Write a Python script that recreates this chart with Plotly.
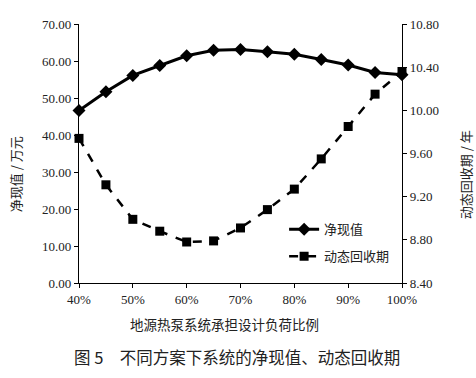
import plotly.graph_objects as go

ratio = [40, 45, 50, 55, 60, 65, 70, 75, 80, 85, 90, 95, 100]
npv = [46.6, 51.7, 56.1, 58.8, 61.4, 62.9, 63.1, 62.5, 61.8, 60.4, 58.9, 56.9, 56.3]
payback = [9.74, 9.31, 8.99, 8.88, 8.78, 8.79, 8.91, 9.08, 9.27, 9.55, 9.85, 10.15, 10.36]

x_tickvals = [40, 50, 60, 70, 80, 90, 100]
x_ticktext = ["40%", "50%", "60%", "70%", "80%", "90%", "100%"]

name_npv = "净现值"
name_pb = "动态回收期"
x_title = "地源热泵系统承担设计负荷比例"
y_title = "净现值 / 万元"
y2_title = "动态回收期 / 年"
caption = "图 5　不同方案下系统的净现值、动态回收期"

serif = "Times New Roman"
cjk = "Noto Sans CJK SC"

fig = go.Figure()
fig.add_trace(go.Scatter(
    x=ratio, y=npv, name=name_npv, mode="lines+markers", legendgroup="a",
    line=dict(color="black", width=3),
    marker=dict(symbol="diamond", size=10, color="black"),
    cliponaxis=False,
))
fig.add_trace(go.Scatter(
    x=ratio, y=payback, name=name_pb, mode="lines+markers", yaxis="y2", legendgroup="b",
    line=dict(color="black", width=2.5, dash="dash"),
    marker=dict(symbol="square", size=9, color="black"),
    cliponaxis=False,
))

axis_common = dict(
    showline=True, linecolor="black", linewidth=1.3,
    ticks="outside", ticklen=4, tickcolor="black", tickwidth=1.2,
    showgrid=False, zeroline=False,
    tickfont=dict(family=serif, size=13, color="#222"),
)

fig.update_layout(
    width=476, height=378,
    font=dict(family=serif, size=13, color="#222"),
    margin=dict(l=79, r=74, t=24, b=95),
    paper_bgcolor="white", plot_bgcolor="white",
    xaxis=dict(range=[40, 100], tickvals=x_tickvals, ticktext=x_ticktext, **axis_common),
    yaxis=dict(range=[0, 70], dtick=10, tickformat=".2f", **axis_common),
    yaxis2=dict(range=[8.4, 10.8], dtick=0.4, tickformat=".2f",
                overlaying="y", side="right", **axis_common),
    legend=dict(x=0.635, y=0.265, xanchor="left", yanchor="top",
                bgcolor="rgba(0,0,0,0)", font=dict(family=cjk, size=13, color="#222"),
                tracegroupgap=7),
    showlegend=True,
    annotations=[
        dict(text=x_title, xref="paper", yref="paper", x=0.449, y=-0.158,
             xanchor="center", yanchor="middle", showarrow=False,
             font=dict(family=cjk, size=13.5, color="#222")),
        dict(text=caption, xref="paper", yref="paper", x=0.49, y=-0.286,
             xanchor="center", yanchor="middle", showarrow=False,
             font=dict(family=cjk, size=16.5, color="#222")),
        dict(text=y_title, xref="paper", yref="paper", x=-0.198, y=0.42,
             xanchor="center", yanchor="middle", showarrow=False, textangle=-90,
             font=dict(family=cjk, size=13, color="#222")),
        dict(text=y2_title, xref="paper", yref="paper", x=1.195, y=0.42,
             xanchor="center", yanchor="middle", showarrow=False, textangle=-90,
             font=dict(family=cjk, size=13, color="#222")),
    ],
)

fig.write_html("out.html", config={"displayModeBar": False},
               post_script="document.body.style.margin='0';")
